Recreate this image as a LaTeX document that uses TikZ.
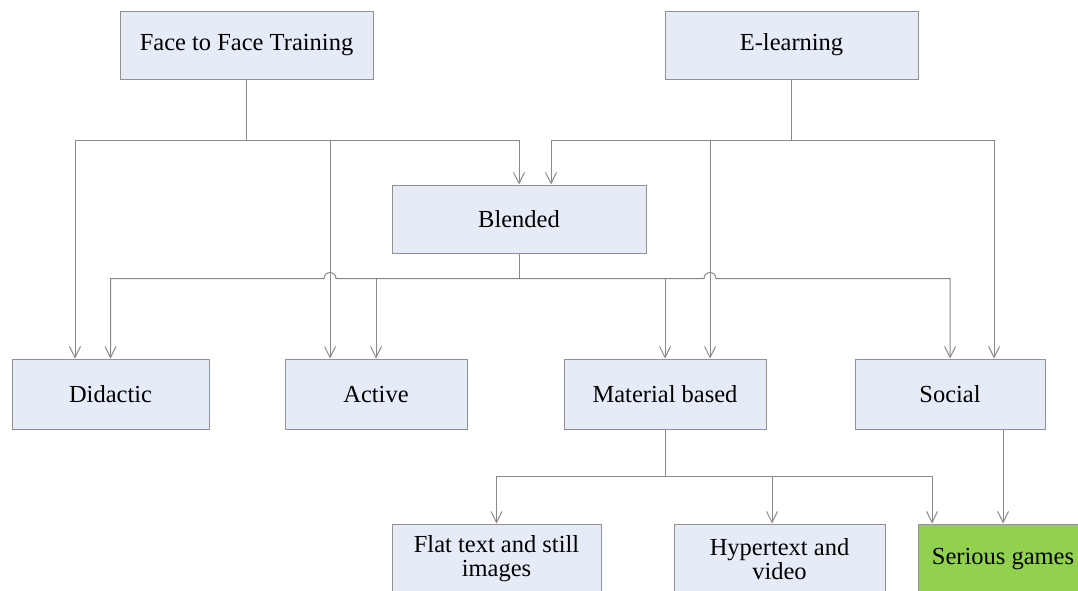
\documentclass[tikz,border=0pt]{standalone}
\usepackage{fontspec}
\setmainfont{Liberation Serif}
\usetikzlibrary{arrows.meta}
\definecolor{boxfill}{RGB}{230,236,247}
\definecolor{boxline}{RGB}{145,145,145}
\definecolor{wire}{RGB}{136,136,136}
\definecolor{gamegreen}{RGB}{146,208,80}

\begin{document}
\begin{tikzpicture}[x=1pt,y=1pt,
  block/.style={rectangle,draw=boxline,line width=1pt,fill=boxfill,text centered,align=center,
    minimum height=70pt,inner sep=0pt,font=\fontsize{24.5}{24}\selectfont},
  link/.style={draw=wire,line width=1pt},
  arrow/.style={link,-{Straight Barb[length=11pt,width=11pt,line width=1pt]}}]
\def\hop{6}
\useasboundingbox (0,0) rectangle (1078,-590);
\path
(246.5,-45) node [block,minimum width=253pt,minimum height=68pt] (ftf) {Face to Face Training}
(791.5,-45) node [block,minimum width=253pt,minimum height=68pt] (elearn) {E-learning}
(519,-219) node [block,minimum width=254pt,minimum height=68pt] (blended) {Blended}
(110.5,-394) node [block,minimum width=197pt] (didactic) {Didactic}
(376,-394) node [block,minimum width=182pt] (active) {Active}
(665,-394) node [block,minimum width=202pt] (material) {Material based}
(950,-394) node [block,minimum width=190pt] (social) {Social}
(496.5,-559) node [block,minimum width=209pt] (flat) {Flat text and still\\images}
(779.5,-559) node [block,minimum width=211pt] (hyper) {Hypertext and\\video}
(1003,-559) node [block,minimum width=170pt,fill=gamegreen] (serious) {Serious games}
;

% face to face
\draw[link] (ftf.south) -- ++(0,-61) coordinate (ftfbus);
\draw[arrow] (ftfbus) -| ([xshift=-35.5pt]didactic.north);
\draw[arrow] (ftfbus) -| ([xshift=-46pt]active.north);
\draw[arrow] (ftfbus) -| (blended.north);

% e-learning
\draw[link] (elearn.south) -- ++(0,-61) coordinate (elbus);
\draw[arrow] (elbus) -| ([xshift=32pt]blended.north);
\draw[arrow] (elbus) -| ([xshift=45pt]material.north);
\draw[arrow] (elbus) -| ([xshift=44pt]social.north);

% blended, with hops over the crossing lines
\draw[link] (blended.south) -- ++(0,-25) coordinate (blbus);
\draw[arrow] (blbus) -- ++(-183,0) arc[start angle=0,end angle=180,radius=\hop] -| (didactic.north);
\draw[arrow] (blbus) -| (active.north);
\draw[arrow] (blbus) -| (material.north);
\draw[arrow] (blbus) -- ++(185,0) arc[start angle=180,end angle=0,radius=\hop] -| (social.north);

% material based
\draw[link] (material.south) -- ++(0,-47) coordinate (mabus);
\draw[arrow] (mabus) -| (flat.north);
\draw[arrow] (mabus) -| ([xshift=-7.5pt]hyper.north);
\draw[arrow] (mabus) -| ([xshift=-71pt]serious.north);

\draw[arrow] (serious.north |- social.south) -- (serious.north);
\end{tikzpicture}
\end{document}
